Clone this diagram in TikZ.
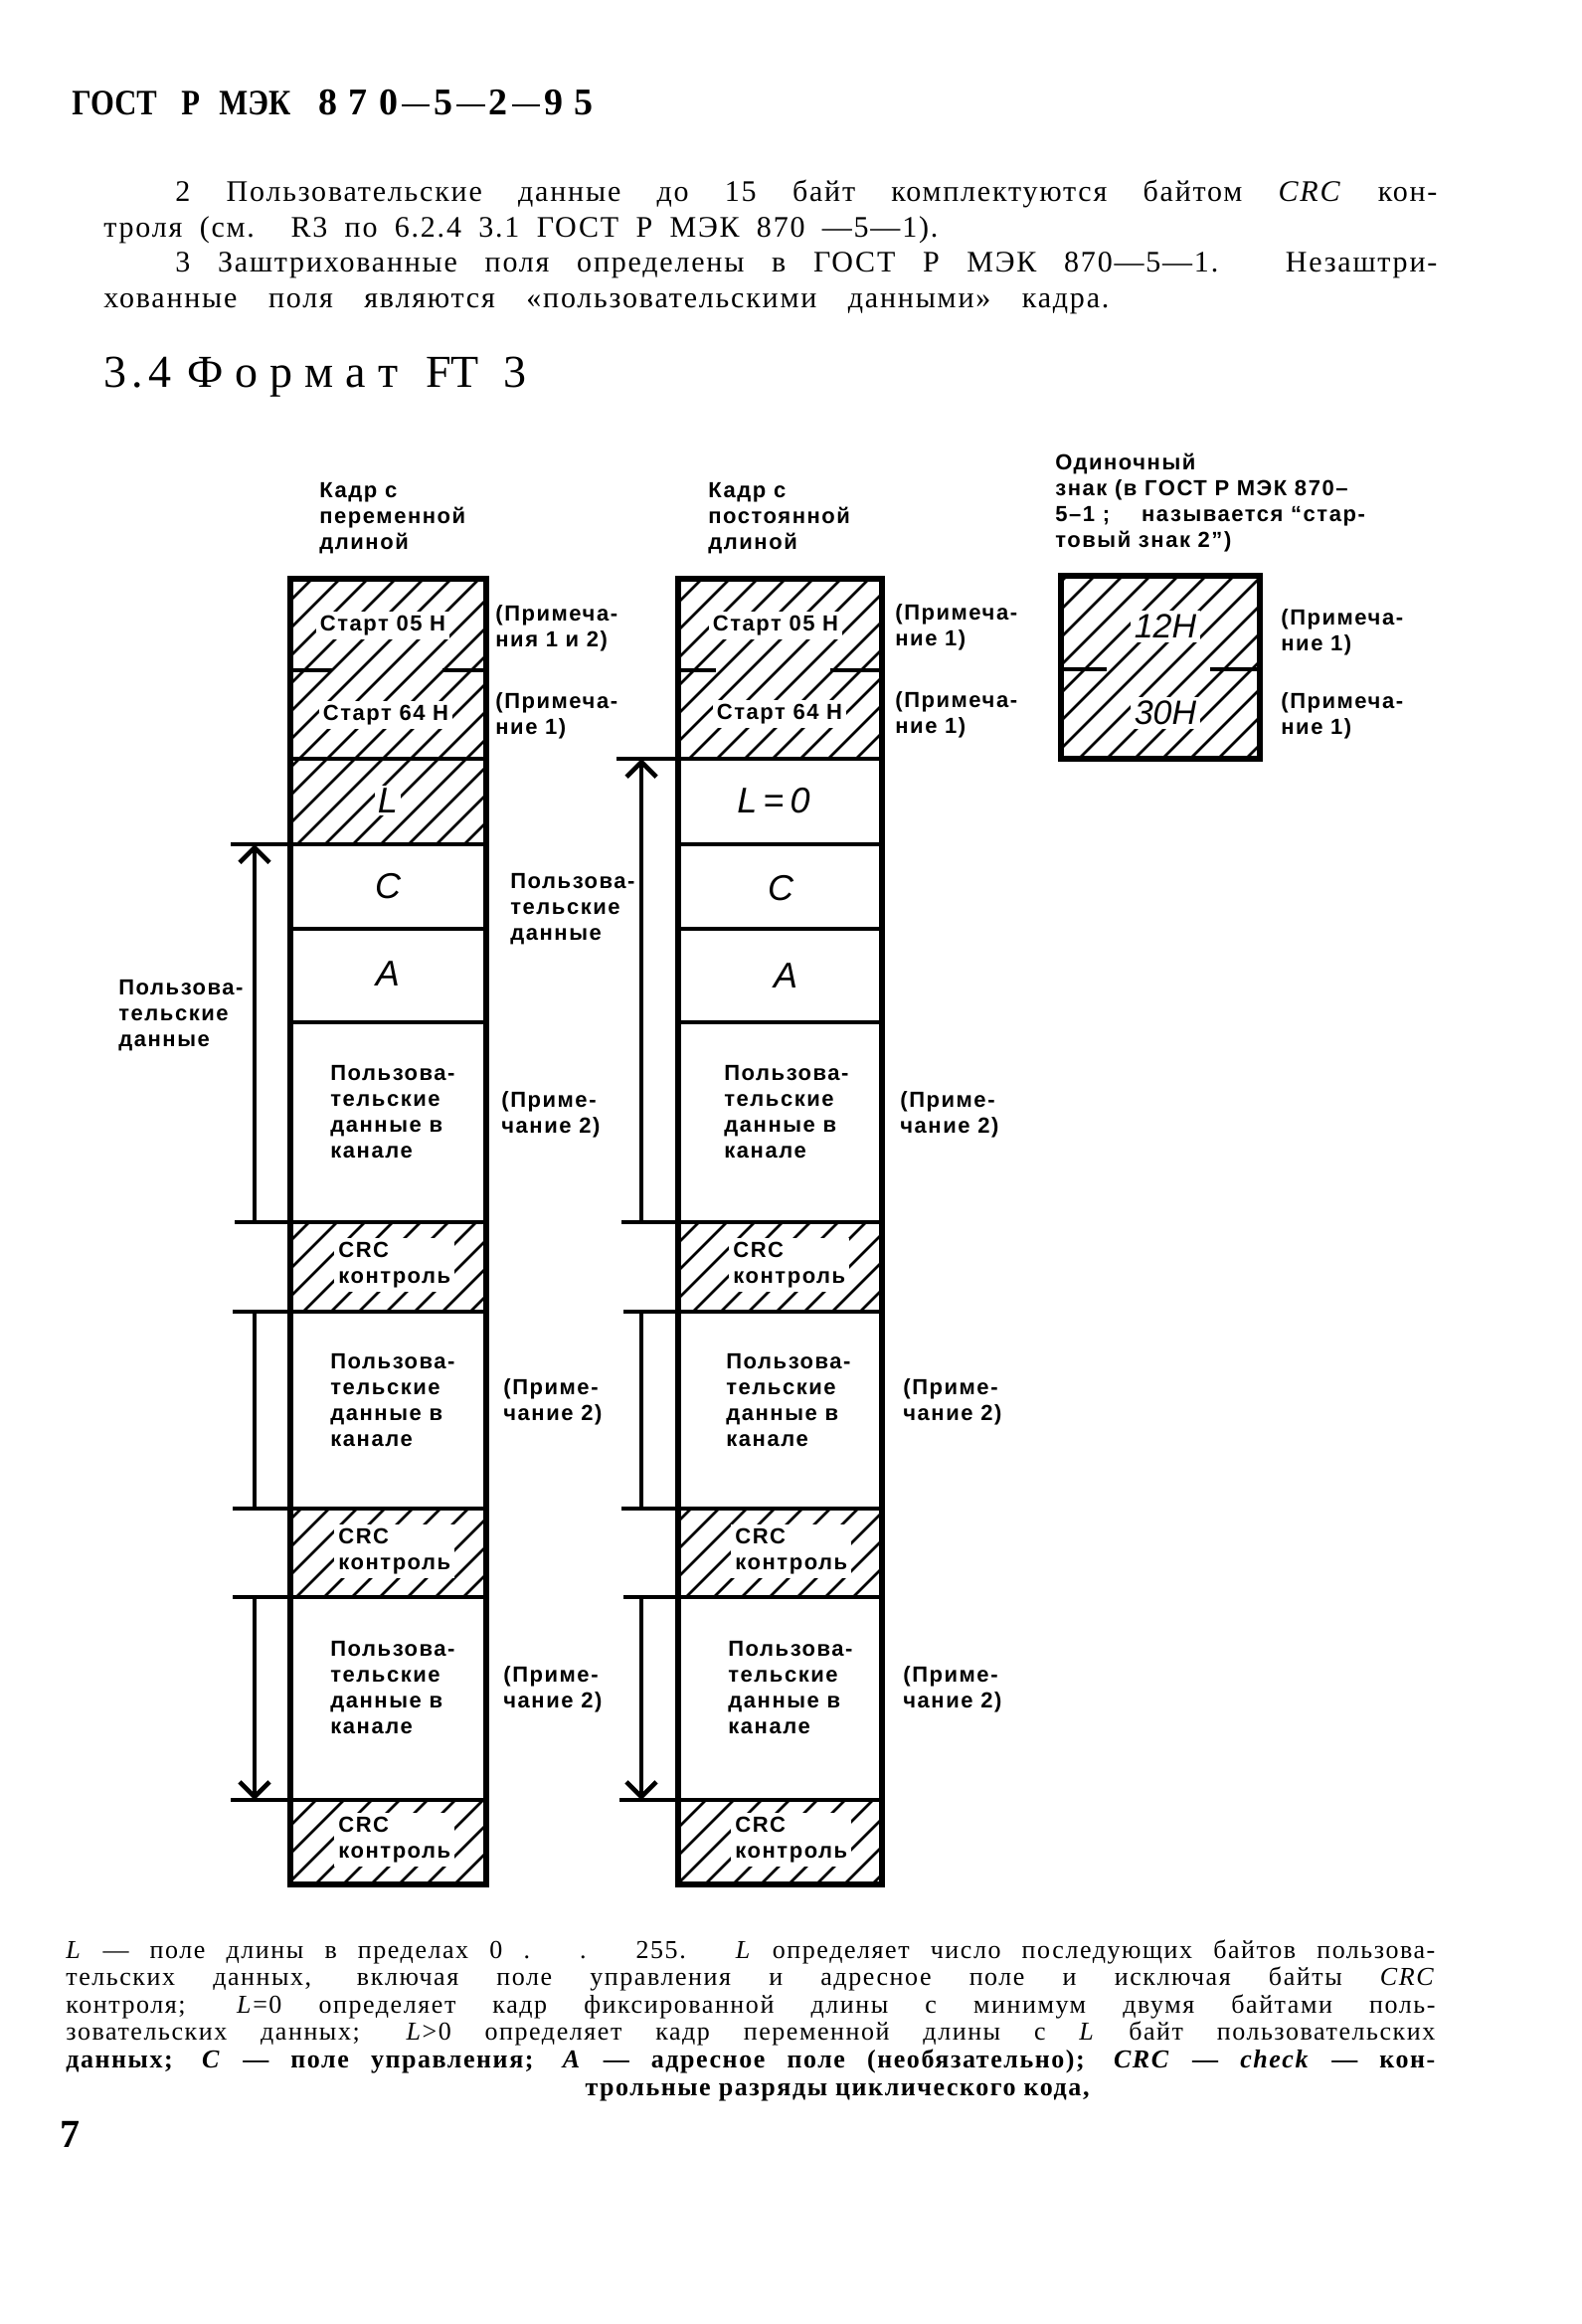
\documentclass[tikz,border=0pt]{standalone}
\usepackage{fontspec}
\setmainfont{Liberation Serif}
\newfontfamily\lblf[LetterSpace=7]{Liberation Sans}
\newfontfamily\drf{Liberation Sans}
\newfontfamily\bodyf[LetterSpace=6]{Liberation Serif}
\newfontfamily\capf[LetterSpace=6]{Liberation Serif}
\newfontfamily\headf[FakeStretch=0.85]{Liberation Serif}
\usetikzlibrary{arrows.meta}
\newcommand\longdash{\kern2pt\leaders\hrule height 0.3em depth -0.235em\hskip 0pt plus 1fil\kern2pt}
\newcommand\dgap{\hskip 0pt plus 0.4fil}
\newcommand\hatchrect[4]{%
  \begin{scope}
    \clip (#1,#2) rectangle (#3,#4);
    \foreach \c in {840,868,...,2800} {\draw[hatchline] (\c-#2,#2) -- (\c-#4,#4);}
  \end{scope}}
\begin{document}
\begin{tikzpicture}[x=0.5pt,y=-0.5pt,
  box/.style={line width=2.6pt},
  sep/.style={line width=2.3pt},
  hatchline/.style={line width=1.35pt},
  tick/.style={line width=2.3pt},
  dimline/.style={line width=2.3pt},
  arr/.style={line width=2.3pt,-{Straight Barb[length=7.5pt,width=15pt]}},
  lbl/.style={font=\lblf\bfseries\fontsize{11pt}{13pt}\selectfont, align=left, inner sep=0pt, anchor=west},
  ko/.style={fill=white, inner sep=2pt},
  letr/.style={font=\drf\itshape\fontsize{18pt}{20pt}\selectfont, inner sep=1.5pt, fill=white},
  hexl/.style={font=\drf\itshape\fontsize{17pt}{19pt}\selectfont, inner sep=2pt, fill=white},
  bodyl/.style={font=\bodyf\fontsize{15pt}{17pt}\selectfont, inner sep=0pt, anchor=base west},
  capl/.style={font=\capf\fontsize{13pt}{15pt}\selectfont, inner sep=0pt, anchor=base west},
  headl/.style={font=\rmfamily\fontsize{23pt}{25pt}\selectfont, anchor=base west, inner sep=0pt},
  gost/.style={font=\headf\bfseries\fontsize{18pt}{20pt}\selectfont, anchor=base west, inner sep=0pt},
]
\useasboundingbox (0,0) rectangle (1590,2337);
\fill[white] (0,0) rectangle (1590,2337);

% ---------- page text ----------
\node[gost] (hdr1) at (72,116) {\makebox[41pt][s]{ГОСТ}};
\node[gost] (hdr2) at (182,116) {Р};
\node[gost] (hdr3) at (220,116) {\makebox[39pt][s]{МЭК}};
\node[gost, font=\rmfamily\bfseries\fontsize{19pt}{20pt}\selectfont] (hdr4) at (320,116)
  {\makebox[138pt][s]{8\dgap 7\dgap 0\longdash 5\longdash 2\longdash 9\dgap 5}};

\node[bodyl] (b1) at (176,203) {\makebox[634.5pt][s]{2 Пользовательские данные до 15 байт комплектуются байтом \textit{CRC} кон-}};
\node[bodyl] (b2) at (104,239) {\makebox[419.5pt][s]{троля (см. R3 по 6.2.4 3.1 ГОСТ Р МЭК 870 —5—1).}};
\node[bodyl] (b3) at (176,274) {\makebox[634.5pt][s]{3 Заштрихованные поля определены в ГОСТ Р МЭК 870—5—1. Незаштри-}};
\node[bodyl] (b4) at (104,310) {\makebox[505.5pt][s]{хованные поля являются «пользовательскими данными» кадра.}};

\node[headl] (t1) at (104,390) {\makebox[34pt][s]{3\hfil.\hfil4}};
\node[headl] (t2) at (188,390) {\makebox[106pt][s]{Ф о р м а т}};
\node[headl] (t3) at (428,390) {\makebox[50.5pt][s]{FT 3}};

% ---------- hatching ----------
\hatchrect{292}{582}{489}{849}
\hatchrect{292}{1229}{489}{1319}
\hatchrect{292}{1517}{489}{1606}
\hatchrect{292}{1810}{489}{1895}
\hatchrect{682}{582}{887}{763}
\hatchrect{682}{1229}{887}{1319}
\hatchrect{682}{1517}{887}{1606}
\hatchrect{682}{1810}{887}{1895}
\hatchrect{1067}{579}{1267}{763}

% ---------- left column ----------
\draw[box] (292,582) rectangle (489,1895);
\foreach \yy in {763,849,934,1028,1229,1319,1517,1606,1810} {\draw[sep] (292,\yy) -- (489,\yy);}
\draw[sep] (292,674) -- (334,674);
\draw[sep] (445,674) -- (489,674);

% ---------- middle column ----------
\draw[box] (682,582) rectangle (887,1895);
\foreach \yy in {763,849,934,1028,1229,1319,1517,1606,1810} {\draw[sep] (682,\yy) -- (887,\yy);}
\draw[sep] (682,674) -- (720,674);
\draw[sep] (835,674) -- (887,674);

% ---------- right box ----------
\draw[box] (1067,579) rectangle (1267,763);
\draw[sep] (1067,673) -- (1113,673);
\draw[sep] (1217,673) -- (1267,673);

% ---------- dimension lines ----------
\coordinate (LAt) at (256,849);  \coordinate (LAb) at (256,1229);
\coordinate (LAtt) at (232,849); \coordinate (LAte) at (292,849);
\coordinate (LAbt) at (236,1229); \coordinate (LAbe) at (292,1229);
\coordinate (LBt) at (256,1319); \coordinate (LBb) at (256,1517);
\coordinate (LBtt) at (234,1319); \coordinate (LBte) at (292,1319);
\coordinate (LBbt) at (234,1517); \coordinate (LBbe) at (292,1517);
\coordinate (LCt) at (256,1606); \coordinate (LCb) at (256,1810);
\coordinate (LCtt) at (234,1606); \coordinate (LCte) at (292,1606);
\coordinate (LCbt) at (232,1810); \coordinate (LCbe) at (292,1810);
\draw[tick] (LAtt) -- (LAte); \draw[tick] (LAbt) -- (LAbe);
\draw[tick] (LBtt) -- (LBte); \draw[tick] (LBbt) -- (LBbe);
\draw[tick] (LCtt) -- (LCte); \draw[tick] (LCbt) -- (LCbe);
\draw[arr] (LAb) -- (LAt);
\draw[dimline] (LBt) -- (LBb);
\draw[arr] (LCt) -- (LCb);

\coordinate (MAt) at (645,763);  \coordinate (MAb) at (645,1229);
\coordinate (MAtt) at (620,763); \coordinate (MAte) at (682,763);
\coordinate (MAbt) at (625,1229); \coordinate (MAbe) at (682,1229);
\coordinate (MBt) at (645,1319); \coordinate (MBb) at (645,1517);
\coordinate (MBtt) at (627,1319); \coordinate (MBte) at (682,1319);
\coordinate (MBbt) at (625,1517); \coordinate (MBbe) at (682,1517);
\coordinate (MCt) at (645,1606); \coordinate (MCb) at (645,1810);
\coordinate (MCtt) at (627,1606); \coordinate (MCte) at (682,1606);
\coordinate (MCbt) at (623,1810); \coordinate (MCbe) at (682,1810);
\draw[tick] (MAtt) -- (MAte); \draw[tick] (MAbt) -- (MAbe);
\draw[tick] (MBtt) -- (MBte); \draw[tick] (MBbt) -- (MBbe);
\draw[tick] (MCtt) -- (MCte); \draw[tick] (MCbt) -- (MCbe);
\draw[arr] (MAb) -- (MAt);
\draw[dimline] (MBt) -- (MBb);
\draw[arr] (MCt) -- (MCb);

% ---------- headers ----------
\node[lbl] (hL) at (321,521) {Кадр с\\переменной\\длиной};
\node[lbl] (hM) at (712,521) {Кадр с\\постоянной\\длиной};
\node[lbl] (hR) at (1061,506) {Одиночный\\знак (в ГОСТ Р МЭК 870–\\5–1 ;\hspace{16pt}называется “стар-\\товый знак 2”)};

% ---------- left column texts ----------
\node[lbl, ko, anchor=center] (ls1) at (385,629) {Старт 05 H};
\node[lbl, ko, anchor=center] (ls2) at (388,719) {Старт 64 H};
\node[letr] (lL) at (390,805) {L};
\node[letr] (lC) at (390,891) {C};
\node[letr] (lA) at (390,979) {A};
\node[lbl] (ld1) at (332,1118) {Пользова-\\тельские\\данные в\\канале};
\node[lbl, ko, anchor=west] (lc1) at (336,1272) {CRC\\контроль};
\node[lbl] (ld2) at (332,1408) {Пользова-\\тельские\\данные в\\канале};
\node[lbl, ko, anchor=west] (lc2) at (336,1560) {CRC\\контроль};
\node[lbl] (ld3) at (332,1697) {Пользова-\\тельские\\данные в\\канале};
\node[lbl, ko, anchor=west] (lc3) at (336,1850) {CRC\\контроль};

\node[lbl] (ln1) at (498,632) {(Примеча-\\ния 1 и 2)};
\node[lbl] (ln2) at (498,720) {(Примеча-\\ние 1)};
\node[lbl] (lud) at (513,914) {Пользова-\\тельские\\данные};
\node[lbl] (ln3) at (504,1121) {(Приме-\\чание 2)};
\node[lbl] (ln4) at (506,1410) {(Приме-\\чание 2)};
\node[lbl] (ln5) at (506,1699) {(Приме-\\чание 2)};
\node[lbl] (lleft) at (119,1021) {Пользова-\\тельские\\данные};

% ---------- middle column texts ----------
\node[lbl, ko, anchor=center] (ms1) at (780,629) {Старт 05 H};
\node[lbl, ko, anchor=center] (ms2) at (784,718) {Старт 64 H};
\node[letr, fill=none] (mL) at (778,805) {L\,=\,0};
\node[letr, fill=none] (mC) at (785,893) {C};
\node[letr, fill=none] (mA) at (790,981) {A};
\node[lbl] (md1) at (728,1118) {Пользова-\\тельские\\данные в\\канале};
\node[lbl, ko, anchor=west] (mc1) at (733,1272) {CRC\\контроль};
\node[lbl] (md2) at (730,1408) {Пользова-\\тельские\\данные в\\канале};
\node[lbl, ko, anchor=west] (mc2) at (735,1560) {CRC\\контроль};
\node[lbl] (md3) at (732,1697) {Пользова-\\тельские\\данные в\\канале};
\node[lbl, ko, anchor=west] (mc3) at (735,1850) {CRC\\контроль};

\node[lbl] (mn1) at (900,631) {(Примеча-\\ние 1)};
\node[lbl] (mn2) at (900,719) {(Примеча-\\ние 1)};
\node[lbl] (mn3) at (905,1121) {(Приме-\\чание 2)};
\node[lbl] (mn4) at (908,1410) {(Приме-\\чание 2)};
\node[lbl] (mn5) at (908,1699) {(Приме-\\чание 2)};

% ---------- right box texts ----------
\node[hexl] (r12) at (1172,630) {12H};
\node[hexl] (r30) at (1172,717) {30H};
\node[lbl] (rn1) at (1288,636) {(Примеча-\\ние 1)};
\node[lbl] (rn2) at (1288,720) {(Примеча-\\ние 1)};

% ---------- caption ----------
\node[capl] (c1) at (66,1969) {\makebox[688.5pt][s]{\textit{L} — поле длины в пределах 0 . . 255. \textit{L} определяет число последующих байтов пользова-}};
\node[capl] (c2) at (66,1996) {\makebox[688.5pt][s]{тельских данных, включая поле управления и адресное поле и исключая байты \textit{CRC}}};
\node[capl] (c3) at (66,2024) {\makebox[688.5pt][s]{контроля; \textit{L}=0 определяет кадр фиксированной длины с минимум двумя байтами поль-}};
\node[capl] (c4) at (66,2051) {\makebox[688.5pt][s]{зовательских данных; \textit{L}>0 определяет кадр переменной длины с \textit{L} байт пользовательских}};
\node[capl, font=\capf\bfseries\fontsize{13pt}{15pt}\selectfont] (c5) at (66,2079) {\makebox[688.5pt][s]{данных; \textit{C} — поле управления; \textit{A} — адресное поле (необязательно); \textit{CRC} — \textit{check} — кон-}};
\node[capl, font=\capf\bfseries\fontsize{13pt}{15pt}\selectfont, anchor=base] (c6) at (842,2107) {трольные разряды циклического кода,};

\node[font=\rmfamily\bfseries\fontsize{20pt}{22pt}\selectfont, anchor=base west, inner sep=0pt] (pg) at (60,2159) {7};
\end{tikzpicture}
\end{document}
